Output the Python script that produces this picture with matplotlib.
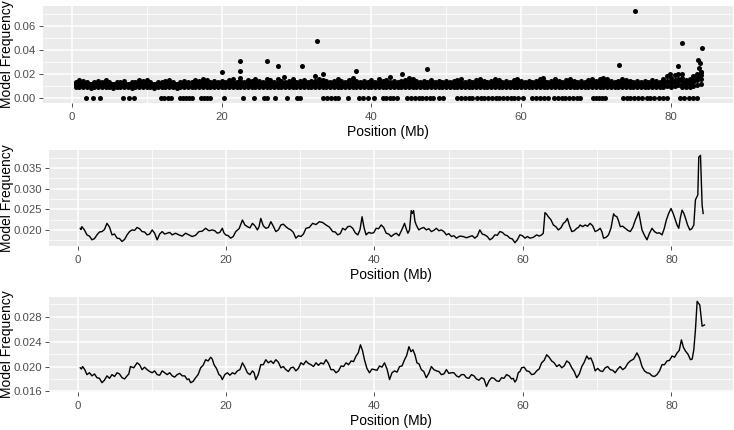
import matplotlib
matplotlib.use("Agg")
import matplotlib.pyplot as plt

plt.rcParams['font.family'] = ['Liberation Sans', 'DejaVu Sans']

# ---- panel 1: per-site model frequency (points) ----
band_x = [0.5, 1.0, 1.5, 2.0, 2.5, 3.0, 3.5, 4.0, 4.5, 5.0,
          5.5, 6.0, 6.5, 7.0, 7.5, 8.0, 8.5, 9.0, 9.5, 10.0,
          10.5, 11.0, 11.5, 12.0, 12.5, 13.0, 13.5, 14.0, 14.5, 15.0,
          15.5, 16.0, 16.5, 17.0, 17.5, 18.0, 18.5, 19.0, 19.5, 20.0,
          20.5, 21.0, 21.5, 22.0, 22.5, 23.0, 23.5, 24.0, 24.5, 25.0,
          25.5, 26.0, 26.5, 27.0, 27.5, 28.0, 28.5, 29.0, 29.5, 30.0,
          30.5, 31.0, 31.5, 32.0, 32.5, 33.0, 33.5, 34.0, 34.5, 35.0,
          35.5, 36.0, 36.5, 37.0, 37.5, 38.0, 38.5, 39.0, 39.5, 40.0,
          40.5, 41.0, 41.5, 42.0, 42.5, 43.0, 43.5, 44.0, 44.5, 45.0,
          45.5, 46.0, 46.5, 47.0, 47.5, 48.0, 48.5, 49.0, 49.5, 50.0,
          50.5, 51.0, 51.5, 52.0, 52.5, 53.0, 53.5, 54.0, 54.5, 55.0,
          55.5, 56.0, 56.5, 57.0, 57.5, 58.0, 58.5, 59.0, 59.5, 60.0,
          60.5, 61.0, 61.5, 62.0, 62.5, 63.0, 63.5, 64.0, 64.5, 65.0,
          65.5, 66.0, 66.5, 67.0, 67.5, 68.0, 68.5, 69.0, 69.5, 70.0,
          70.5, 71.0, 71.5, 72.0, 72.5, 73.0, 73.5, 74.0, 74.5, 75.0,
          75.5, 76.0, 76.5, 77.0, 77.5, 78.0, 78.5, 79.0, 79.5, 80.0,
          80.5, 81.0, 81.5, 82.0, 82.5, 83.0, 83.5, 84.0]
band_hi = [0.013, 0.015, 0.014, 0.013, 0.012, 0.013, 0.014, 0.013, 0.015, 0.013,
           0.012, 0.013, 0.013, 0.014, 0.012, 0.013, 0.013, 0.015, 0.014, 0.015,
           0.013, 0.012, 0.013, 0.013, 0.014, 0.015, 0.013, 0.012, 0.013, 0.014,
           0.013, 0.013, 0.015, 0.014, 0.016, 0.015, 0.013, 0.014, 0.013, 0.014,
           0.013, 0.015, 0.016, 0.013, 0.014, 0.013, 0.015, 0.014, 0.016, 0.014,
           0.013, 0.016, 0.015, 0.013, 0.016, 0.014, 0.013, 0.014, 0.016, 0.013,
           0.014, 0.015, 0.013, 0.014, 0.018, 0.016, 0.015, 0.014, 0.013, 0.014,
           0.016, 0.014, 0.013, 0.015, 0.017, 0.014, 0.013, 0.014, 0.013, 0.015,
           0.013, 0.016, 0.014, 0.015, 0.013, 0.014, 0.013, 0.014, 0.015, 0.017,
           0.016, 0.014, 0.013, 0.014, 0.013, 0.015, 0.013, 0.014, 0.013, 0.014,
           0.013, 0.014, 0.015, 0.016, 0.013, 0.014, 0.013, 0.015, 0.016, 0.014,
           0.013, 0.014, 0.016, 0.015, 0.013, 0.014, 0.013, 0.015, 0.016, 0.014,
           0.013, 0.014, 0.013, 0.014, 0.016, 0.014, 0.013, 0.014, 0.016, 0.014,
           0.013, 0.015, 0.016, 0.014, 0.013, 0.014, 0.013, 0.015, 0.016, 0.014,
           0.016, 0.017, 0.016, 0.014, 0.013, 0.014, 0.016, 0.015, 0.014, 0.013,
           0.014, 0.013, 0.014, 0.013, 0.015, 0.014, 0.013, 0.016, 0.018, 0.017,
           0.019, 0.020, 0.017, 0.015, 0.016, 0.018, 0.020, 0.022]
band_q = [0.012, 0.013, 0.0125, 0.012, 0.012, 0.012, 0.0125, 0.012, 0.013, 0.012,
          0.012, 0.012, 0.012, 0.0125, 0.012, 0.012, 0.012, 0.013, 0.0125, 0.013,
          0.012, 0.012, 0.012, 0.012, 0.0125, 0.013, 0.012, 0.012, 0.012, 0.0125,
          0.012, 0.012, 0.013, 0.0125, 0.0135, 0.013, 0.012, 0.0125, 0.012, 0.0125,
          0.012, 0.013, 0.0135, 0.012, 0.0125, 0.012, 0.013, 0.0125, 0.0135, 0.0125,
          0.012, 0.0135, 0.013, 0.012, 0.0135, 0.0125, 0.012, 0.0125, 0.0135, 0.012,
          0.0125, 0.013, 0.012, 0.0125, 0.0145, 0.0135, 0.013, 0.0125, 0.012, 0.0125,
          0.0135, 0.0125, 0.012, 0.013, 0.014, 0.0125, 0.012, 0.0125, 0.012, 0.013,
          0.012, 0.0135, 0.0125, 0.013, 0.012, 0.0125, 0.012, 0.0125, 0.013, 0.014,
          0.0135, 0.0125, 0.012, 0.0125, 0.012, 0.013, 0.012, 0.0125, 0.012, 0.0125,
          0.012, 0.0125, 0.013, 0.0135, 0.012, 0.0125, 0.012, 0.013, 0.0135, 0.0125,
          0.012, 0.0125, 0.0135, 0.013, 0.012, 0.0125, 0.012, 0.013, 0.0135, 0.0125,
          0.012, 0.0125, 0.012, 0.0125, 0.0135, 0.0125, 0.012, 0.0125, 0.0135, 0.0125,
          0.012, 0.013, 0.0135, 0.0125, 0.012, 0.0125, 0.012, 0.013, 0.0135, 0.0125,
          0.0135, 0.014, 0.0135, 0.0125, 0.012, 0.0125, 0.0135, 0.013, 0.0125, 0.012,
          0.0125, 0.012, 0.0125, 0.012, 0.013, 0.0125, 0.012, 0.0135, 0.0145, 0.014,
          0.015, 0.016, 0.014, 0.013, 0.0135, 0.015, 0.017, 0.019]
band_mid = [0.011, 0.012, 0.011, 0.011, 0.010, 0.011, 0.012, 0.011, 0.011, 0.011,
            0.010, 0.011, 0.011, 0.012, 0.011, 0.010, 0.011, 0.011, 0.012, 0.011,
            0.011, 0.010, 0.011, 0.011, 0.012, 0.011, 0.011, 0.010, 0.011, 0.012,
            0.011, 0.011, 0.012, 0.011, 0.012, 0.011, 0.011, 0.012, 0.011, 0.011,
            0.011, 0.012, 0.011, 0.011, 0.012, 0.011, 0.011, 0.012, 0.011, 0.011,
            0.011, 0.012, 0.011, 0.011, 0.012, 0.011, 0.011, 0.011, 0.012, 0.011,
            0.011, 0.012, 0.011, 0.011, 0.012, 0.012, 0.011, 0.011, 0.011, 0.012,
            0.011, 0.011, 0.011, 0.012, 0.012, 0.011, 0.011, 0.011, 0.011, 0.012,
            0.011, 0.012, 0.011, 0.011, 0.011, 0.012, 0.011, 0.011, 0.012, 0.012,
            0.011, 0.011, 0.011, 0.012, 0.011, 0.011, 0.011, 0.012, 0.011, 0.011,
            0.011, 0.011, 0.012, 0.011, 0.011, 0.011, 0.011, 0.012, 0.011, 0.011,
            0.011, 0.011, 0.012, 0.011, 0.011, 0.011, 0.011, 0.012, 0.011, 0.011,
            0.011, 0.011, 0.011, 0.011, 0.012, 0.011, 0.011, 0.011, 0.012, 0.011,
            0.011, 0.012, 0.011, 0.011, 0.011, 0.011, 0.011, 0.012, 0.011, 0.011,
            0.012, 0.012, 0.011, 0.011, 0.011, 0.011, 0.012, 0.011, 0.011, 0.011,
            0.011, 0.011, 0.011, 0.011, 0.012, 0.011, 0.011, 0.012, 0.013, 0.012,
            0.013, 0.014, 0.012, 0.012, 0.012, 0.013, 0.015, 0.016]
band_lo = [0.009, 0.0095, 0.009, 0.009, 0.0085, 0.009, 0.0095, 0.009, 0.009, 0.009,
           0.0085, 0.009, 0.009, 0.0095, 0.009, 0.0085, 0.009, 0.009, 0.0095, 0.009,
           0.009, 0.0085, 0.009, 0.009, 0.0095, 0.009, 0.009, 0.0085, 0.009, 0.0095,
           0.009, 0.009, 0.0095, 0.009, 0.0095, 0.009, 0.009, 0.0095, 0.009, 0.009,
           0.009, 0.0095, 0.009, 0.009, 0.0095, 0.009, 0.009, 0.0095, 0.009, 0.009,
           0.009, 0.0095, 0.009, 0.009, 0.0095, 0.009, 0.009, 0.009, 0.0095, 0.009,
           0.009, 0.0095, 0.009, 0.009, 0.0095, 0.0095, 0.009, 0.009, 0.009, 0.0095,
           0.009, 0.009, 0.009, 0.0095, 0.0095, 0.009, 0.009, 0.009, 0.009, 0.0095,
           0.009, 0.0095, 0.009, 0.009, 0.009, 0.0095, 0.009, 0.009, 0.0095, 0.0095,
           0.009, 0.009, 0.009, 0.0095, 0.009, 0.009, 0.009, 0.0095, 0.009, 0.009,
           0.009, 0.009, 0.0095, 0.009, 0.009, 0.009, 0.009, 0.0095, 0.009, 0.009,
           0.009, 0.009, 0.0095, 0.009, 0.009, 0.009, 0.009, 0.0095, 0.009, 0.009,
           0.009, 0.009, 0.009, 0.009, 0.0095, 0.009, 0.009, 0.009, 0.0095, 0.009,
           0.009, 0.0095, 0.009, 0.009, 0.009, 0.009, 0.009, 0.0095, 0.009, 0.009,
           0.0095, 0.0095, 0.009, 0.009, 0.009, 0.009, 0.0095, 0.009, 0.009, 0.009,
           0.009, 0.009, 0.009, 0.009, 0.0095, 0.009, 0.009, 0.0095, 0.010, 0.0095,
           0.010, 0.011, 0.0095, 0.0095, 0.0095, 0.010, 0.011, 0.012]

zero_x = [1.9, 2.8, 3.7, 6.9, 7.6, 8.3, 11.9, 12.3, 12.8, 13.2, 14.5, 14.9, 15.3,
          15.7, 16.1, 17.2, 17.7, 18.1, 18.5, 20.3, 22.9, 24.3, 25.6, 26.1, 27.2,
          28.8, 30.1, 30.5, 33.6, 34.1, 34.6, 35.1, 35.6, 36.9, 38.3, 38.9, 39.5,
          40.3, 41.6, 42.0, 42.5, 42.9, 43.4, 44.8, 45.3, 45.8, 46.3, 46.8, 47.3,
          47.8, 48.3, 49.1, 49.6, 51.5, 52.0, 52.5, 53.0, 53.5, 54.1, 54.6, 55.1,
          55.6, 56.1, 56.6, 57.1, 57.6, 58.1, 58.6, 59.1, 59.6, 60.3, 61.5, 62.0,
          62.5, 63.0, 63.6, 64.4, 64.9, 65.4, 65.9, 66.4, 66.9, 67.4, 67.9, 69.6,
          70.0, 70.4, 70.8, 71.2, 73.6, 74.1, 74.6, 75.1, 75.6, 76.2, 76.8, 77.2,
          77.8, 78.4, 79.0, 79.5, 81.2, 81.8, 82.4, 83.0, 83.5]

high_x = [20.0, 22.4, 22.4, 22.4, 26.1, 27.5, 28.4, 30.7, 32.8, 33.6, 37.9, 42.5,
          44.1, 47.5, 62.9, 73.1, 75.2, 79.9, 80.9, 81.5, 81.5, 84.1, 83.6, 83.9,
          83.8, 84.0, 83.7]
high_y = [0.0217, 0.031, 0.0225, 0.0167, 0.031, 0.027, 0.0175, 0.027, 0.0475, 0.020,
          0.0225, 0.0175, 0.020, 0.024, 0.0167, 0.0275, 0.0725, 0.020, 0.027, 0.046,
          0.020, 0.0417, 0.0317, 0.029, 0.025, 0.022, 0.019]

# ---- panel 2: smoothed model frequency ----
p2_x = [0.36, 0.58, 1.26, 1.94, 2.61, 3.29, 3.96, 4.64, 5.32, 5.99,
        6.67, 7.34, 8.02, 8.69, 9.37, 10.05, 10.72, 11.40, 12.07, 12.75,
        13.65, 14.55, 15.45, 16.35, 17.25, 18.15, 18.83, 19.50, 19.95, 20.63,
        21.31, 22.21, 22.88, 23.56, 24.23, 24.68, 25.36, 26.04, 26.71, 27.39,
        28.06, 28.74, 29.41, 30.09, 30.77, 31.67, 32.57, 33.47, 34.37, 35.05,
        35.72, 36.40, 37.07, 37.75, 38.33, 38.87, 39.55, 40.23, 40.90, 41.58,
        42.26, 42.93, 44.05, 44.50, 44.95, 45.27, 45.63, 46.31, 46.98, 47.66,
        48.34, 49.01, 49.69, 50.36, 51.04, 51.94, 52.84, 53.51, 54.19, 54.86,
        55.54, 56.22, 56.89, 57.57, 58.24, 58.92, 59.59, 60.27, 60.95, 61.85,
        62.52, 62.97, 63.42, 64.10, 64.77, 65.45, 65.99, 66.58, 67.25, 67.70,
        68.38, 69.05, 69.73, 70.41, 70.86, 71.53, 72.21, 72.66, 73.11, 73.78,
        74.46, 75.14, 75.59, 76.04, 76.71, 77.39, 78.06, 78.74, 79.32, 79.95,
        80.54, 80.99, 81.44, 81.89, 82.48, 83.02, 83.24, 83.56, 83.69, 83.92,
        84.14, 84.28]
p2_y = [0.0204, 0.0208, 0.0188, 0.0176, 0.0188, 0.0196, 0.0216, 0.0188, 0.0180, 0.0172,
        0.0188, 0.0200, 0.0206, 0.0196, 0.0188, 0.0200, 0.0176, 0.0196, 0.0192, 0.0188,
        0.0188, 0.0192, 0.0184, 0.0196, 0.0204, 0.0200, 0.0192, 0.0204, 0.0188, 0.0180,
        0.0196, 0.0224, 0.0208, 0.0216, 0.0200, 0.0228, 0.0204, 0.0220, 0.0196, 0.0212,
        0.0208, 0.0200, 0.0180, 0.0184, 0.0204, 0.0216, 0.0220, 0.0212, 0.0196, 0.0188,
        0.0204, 0.0208, 0.0204, 0.0188, 0.0232, 0.0188, 0.0192, 0.0204, 0.0212, 0.0192,
        0.0184, 0.0192, 0.0216, 0.0192, 0.0247, 0.0247, 0.0212, 0.0204, 0.0200, 0.0196,
        0.0204, 0.0200, 0.0188, 0.0184, 0.0180, 0.0184, 0.0184, 0.0180, 0.0200, 0.0188,
        0.0176, 0.0188, 0.0196, 0.0188, 0.0180, 0.0169, 0.0188, 0.0180, 0.0180, 0.0188,
        0.0188, 0.0242, 0.0232, 0.0212, 0.0200, 0.0216, 0.0228, 0.0196, 0.0204, 0.0212,
        0.0212, 0.0216, 0.0196, 0.0204, 0.0180, 0.0188, 0.0239, 0.0232, 0.0208, 0.0204,
        0.0196, 0.0224, 0.0244, 0.0200, 0.0176, 0.0204, 0.0192, 0.0188, 0.0224, 0.0252,
        0.0224, 0.0204, 0.0248, 0.0229, 0.0200, 0.0212, 0.0273, 0.0285, 0.0377, 0.0381,
        0.0260, 0.0240]
# in-between windows of panel 2
p2_mid_x = [0.47, 0.92, 1.60, 2.28, 2.95, 3.62, 4.30, 4.98, 5.65, 6.33,
            7.00, 7.68, 8.35, 9.03, 9.71, 10.38, 11.06, 11.73, 12.41, 13.20,
            14.10, 15.00, 15.90, 16.80, 17.70, 18.49, 19.16, 19.72, 20.29, 20.97,
            21.76, 22.54, 23.22, 23.89, 24.45, 25.02, 25.70, 26.37, 27.05, 27.72,
            28.40, 29.07, 29.75, 30.43, 31.22, 32.12, 33.02, 33.92, 34.71, 35.38,
            36.06, 36.73, 37.41, 38.04, 38.60, 39.21, 39.89, 40.56, 41.24, 41.92,
            42.60, 43.30, 43.70, 44.27, 44.72, 45.11, 45.45, 45.97, 46.64, 47.32,
            48.00, 48.67, 49.35, 50.02, 50.70, 51.49, 52.39, 53.17, 53.85, 54.52,
            55.20, 55.88, 56.55, 57.23, 57.90, 58.58, 59.25, 59.93, 60.61, 61.40,
            62.18, 62.74, 63.20, 63.76, 64.43, 65.11, 65.72, 66.28, 66.91, 67.48,
            68.04, 68.71, 69.39, 70.07, 70.63, 71.20, 71.87, 72.43, 72.88, 73.44,
            74.12, 74.80, 75.36, 75.81, 76.37, 77.05, 77.72, 78.40, 79.03, 79.63,
            80.24, 80.76, 81.21, 81.66, 82.18, 82.75]
p2_mid_y = [0.0201, 0.0200, 0.0185, 0.0179, 0.0195, 0.0201, 0.0207, 0.0190, 0.0179, 0.0177,
            0.0196, 0.0199, 0.0203, 0.0195, 0.0190, 0.0192, 0.0190, 0.0190, 0.0194, 0.0192,
            0.0185, 0.0188, 0.0187, 0.0197, 0.0198, 0.0198, 0.0194, 0.0193, 0.0186, 0.0184,
            0.0203, 0.0212, 0.0205, 0.0210, 0.0208, 0.0210, 0.0206, 0.0209, 0.0200, 0.0214,
            0.0203, 0.0194, 0.0186, 0.0190, 0.0206, 0.0213, 0.0218, 0.0207, 0.0195, 0.0191,
            0.0200, 0.0209, 0.0193, 0.0200, 0.0205, 0.0194, 0.0193, 0.0203, 0.0206, 0.0190,
            0.0189, 0.0186, 0.0201, 0.0203, 0.0200, 0.0240, 0.0221, 0.0200, 0.0206, 0.0203,
            0.0199, 0.0198, 0.0196, 0.0191, 0.0186, 0.0185, 0.0181, 0.0186, 0.0185, 0.0190,
            0.0184, 0.0180, 0.0187, 0.0194, 0.0186, 0.0178, 0.0176, 0.0186, 0.0184, 0.0182,
            0.0185, 0.0192, 0.0238, 0.0225, 0.0208, 0.0205, 0.0220, 0.0210, 0.0198, 0.0206,
            0.0208, 0.0209, 0.0210, 0.0199, 0.0196, 0.0182, 0.0205, 0.0234, 0.0222, 0.0209,
            0.0199, 0.0206, 0.0233, 0.0223, 0.0187, 0.0192, 0.0196, 0.0193, 0.0203, 0.0240,
            0.0240, 0.0212, 0.0230, 0.0241, 0.0212, 0.0203]

# ---- panel 3: second smoothing ----
p3_x = [0.36, 0.68, 1.26, 1.94, 2.61, 3.29, 3.96, 4.64, 5.32, 5.99,
        6.67, 7.12, 8.02, 8.69, 9.37, 10.05, 10.72, 11.40, 12.07, 12.75,
        13.42, 14.10, 14.77, 15.23, 15.90, 16.58, 17.25, 17.93, 18.38, 19.05,
        19.50, 20.18, 20.86, 21.53, 22.21, 22.88, 23.56, 24.01, 24.68, 25.36,
        26.04, 26.71, 27.39, 28.06, 28.74, 29.41, 30.09, 30.77, 31.44, 32.12,
        32.79, 33.47, 34.14, 34.82, 35.50, 36.17, 36.85, 37.52, 38.11, 38.65,
        39.32, 40.00, 40.68, 41.35, 42.03, 42.70, 43.38, 44.05, 44.64, 45.18,
        45.72, 46.31, 46.98, 47.66, 48.34, 49.01, 49.69, 50.36, 51.04, 51.71,
        52.39, 53.06, 53.74, 54.41, 55.09, 55.77, 56.44, 57.12, 57.79, 58.47,
        58.92, 59.37, 59.82, 60.50, 61.17, 61.85, 62.52, 63.20, 63.87, 64.55,
        65.23, 65.90, 66.58, 67.25, 67.93, 68.60, 69.14, 69.73, 70.41, 71.08,
        71.76, 72.43, 73.11, 73.78, 74.46, 75.36, 76.04, 76.71, 77.39, 78.06,
        78.74, 79.41, 80.09, 80.77, 81.35, 81.89, 82.57, 83.02, 83.24, 83.47,
        83.83, 84.14, 84.46]
p3_y = [0.0198, 0.0200, 0.0187, 0.0185, 0.0182, 0.0174, 0.0185, 0.0187, 0.0190, 0.0182,
        0.0185, 0.0200, 0.0206, 0.0195, 0.0195, 0.0190, 0.0187, 0.0193, 0.0187, 0.0185,
        0.0187, 0.0185, 0.0179, 0.0174, 0.0182, 0.0198, 0.0211, 0.0215, 0.0203, 0.0187,
        0.0179, 0.0190, 0.0190, 0.0193, 0.0206, 0.0190, 0.0193, 0.0179, 0.0203, 0.0211,
        0.0209, 0.0211, 0.0198, 0.0195, 0.0198, 0.0193, 0.0206, 0.0209, 0.0203, 0.0206,
        0.0206, 0.0211, 0.0195, 0.0190, 0.0201, 0.0206, 0.0209, 0.0217, 0.0235, 0.0211,
        0.0190, 0.0195, 0.0201, 0.0206, 0.0179, 0.0193, 0.0200, 0.0211, 0.0232, 0.0227,
        0.0206, 0.0195, 0.0182, 0.0200, 0.0193, 0.0187, 0.0195, 0.0190, 0.0185, 0.0187,
        0.0182, 0.0187, 0.0180, 0.0182, 0.0168, 0.0182, 0.0177, 0.0182, 0.0187, 0.0180,
        0.0175, 0.0190, 0.0198, 0.0193, 0.0187, 0.0193, 0.0206, 0.0219, 0.0209, 0.0200,
        0.0198, 0.0209, 0.0198, 0.0182, 0.0200, 0.0217, 0.0214, 0.0193, 0.0193, 0.0198,
        0.0195, 0.0190, 0.0200, 0.0198, 0.0209, 0.0222, 0.0200, 0.0190, 0.0185, 0.0187,
        0.0203, 0.0209, 0.0217, 0.0222, 0.0243, 0.0225, 0.0211, 0.0227, 0.0259, 0.0305,
        0.0299, 0.0265, 0.0267]
p3_mid_x = [0.52, 0.97, 1.60, 2.28, 2.95, 3.62, 4.30, 4.98, 5.65, 6.33,
            6.90, 7.57, 8.35, 9.03, 9.71, 10.38, 11.06, 11.73, 12.41, 13.08,
            13.76, 14.43, 15.00, 15.56, 16.24, 16.91, 17.59, 18.15, 18.71, 19.27,
            19.84, 20.52, 21.19, 21.87, 22.54, 23.22, 23.78, 24.34, 25.02, 25.70,
            26.37, 27.05, 27.72, 28.40, 29.07, 29.75, 30.43, 31.10, 31.78, 32.45,
            33.13, 33.80, 34.48, 35.16, 35.83, 36.51, 37.18, 37.81, 38.38, 38.98,
            39.66, 40.34, 41.01, 41.69, 42.36, 43.04, 43.71, 44.34, 44.91, 45.45,
            46.01, 46.64, 47.32, 48.00, 48.67, 49.35, 50.02, 50.70, 51.37, 52.05,
            52.72, 53.40, 54.07, 54.75, 55.43, 56.10, 56.78, 57.45, 58.13, 58.69,
            59.14, 59.60, 60.16, 60.83, 61.51, 62.18, 62.86, 63.53, 64.21, 64.89,
            65.56, 66.24, 66.91, 67.59, 68.26, 68.87, 69.43, 70.07, 70.74, 71.42,
            72.09, 72.77, 73.44, 74.12, 74.91, 75.70, 76.37, 77.05, 77.72, 78.40,
            79.07, 79.75, 80.43, 81.06, 81.62, 82.23, 82.80]
p3_mid_y = [0.0196, 0.0195, 0.0190, 0.0188, 0.0181, 0.0178, 0.0181, 0.0184, 0.0188, 0.0180,
            0.0188, 0.0198, 0.0203, 0.0199, 0.0192, 0.0193, 0.0186, 0.0190, 0.0190, 0.0183,
            0.0189, 0.0185, 0.0180, 0.0176, 0.0187, 0.0202, 0.0209, 0.0212, 0.0197, 0.0185,
            0.0187, 0.0186, 0.0188, 0.0195, 0.0199, 0.0187, 0.0190, 0.0187, 0.0203, 0.0206,
            0.0205, 0.0207, 0.0200, 0.0192, 0.0199, 0.0197, 0.0203, 0.0205, 0.0200, 0.0202,
            0.0204, 0.0205, 0.0195, 0.0193, 0.0200, 0.0203, 0.0208, 0.0222, 0.0226, 0.0197,
            0.0196, 0.0194, 0.0199, 0.0196, 0.0190, 0.0191, 0.0201, 0.0218, 0.0224, 0.0219,
            0.0204, 0.0192, 0.0189, 0.0195, 0.0192, 0.0188, 0.0189, 0.0190, 0.0183, 0.0187,
            0.0181, 0.0185, 0.0178, 0.0180, 0.0177, 0.0181, 0.0176, 0.0181, 0.0185, 0.0181,
            0.0179, 0.0192, 0.0199, 0.0192, 0.0188, 0.0196, 0.0210, 0.0215, 0.0206, 0.0203,
            0.0201, 0.0206, 0.0192, 0.0188, 0.0207, 0.0212, 0.0206, 0.0197, 0.0192, 0.0200,
            0.0194, 0.0196, 0.0195, 0.0205, 0.0212, 0.0214, 0.0193, 0.0189, 0.0184, 0.0193,
            0.0203, 0.0210, 0.0215, 0.0226, 0.0231, 0.0220, 0.0212]

x_major = [0, 20, 40, 60, 80]
x_minor = [10, 30, 50, 70]

W, H = 734, 430
fig = plt.figure(figsize=(W / 100, H / 100), dpi=100)


def add_panel(left, top, right, bottom):
    return fig.add_axes([left / W, 1 - bottom / H, (right - left) / W, (bottom - top) / H])


def gg_look(ax, yticks, yminor, ylim, ylabels):
    ax.set_facecolor('#EBEBEB')
    for s in ax.spines.values():
        s.set_visible(False)
    ax.set_xlim(-3.85, 88.3)
    ax.set_ylim(*ylim)
    ax.set_xticks(x_major)
    ax.set_xticks(x_minor, minor=True)
    ax.set_yticks(yticks)
    ax.set_yticklabels(ylabels)
    ax.set_yticks(yminor, minor=True)
    ax.grid(which='major', color='white', lw=1.1)
    ax.grid(which='minor', color='white', lw=0.55)
    ax.set_axisbelow(True)
    ax.tick_params(which='major', length=2.8, width=0.6, color='#333333',
                   labelsize=8.2, labelcolor='#4D4D4D', pad=2.2)
    ax.tick_params(axis='x', which='major', pad=4)
    ax.tick_params(which='minor', length=0)
    ax.set_xlabel('Position (Mb)', fontsize=10, color='black', labelpad=1.5)
    ax.set_ylabel('Model Frequency', fontsize=10, color='black')
    pos = ax.get_position()
    ax.yaxis.set_label_coords(14.5 / W, 0.5 * (pos.y0 + pos.y1), transform=fig.transFigure)


def merged(xs, ys, xm, ym):
    pts = sorted(zip(list(xs) + list(xm), list(ys) + list(ym)))
    return [p[0] for p in pts], [p[1] for p in pts]


ax1 = add_panel(43, 6, 733, 103)
for ys in (band_lo, band_mid, band_q, band_hi):
    ax1.scatter(band_x, ys, s=13, color='black', lw=0, zorder=3)
ax1.scatter(zero_x, [0.0] * len(zero_x), s=13, color='black', lw=0, zorder=3)
ax1.scatter(high_x, high_y, s=13, color='black', lw=0, zorder=3)
gg_look(ax1, [0, 0.02, 0.04, 0.06], [0.01, 0.03, 0.05, 0.07], (-0.0042, 0.0767),
        ['0.00', '0.02', '0.04', '0.06'])

ax2 = add_panel(49, 150, 733, 246)
x2, y2 = merged(p2_x, p2_y, p2_mid_x, p2_mid_y)
ax2.plot(x2, y2, color='black', lw=1.0)
gg_look(ax2, [0.020, 0.025, 0.030, 0.035], [0.0175, 0.0225, 0.0275, 0.0325, 0.0375],
        (0.0161, 0.0394), ['0.020', '0.025', '0.030', '0.035'])

ax3 = add_panel(49, 297, 733, 392)
x3, y3 = merged(p3_x, p3_y, p3_mid_x, p3_mid_y)
ax3.plot(x3, y3, color='black', lw=1.0)
gg_look(ax3, [0.016, 0.020, 0.024, 0.028], [0.018, 0.022, 0.026, 0.030],
        (0.0159, 0.0312), ['0.016', '0.020', '0.024', '0.028'])

fig.savefig('out.png', dpi=100)
